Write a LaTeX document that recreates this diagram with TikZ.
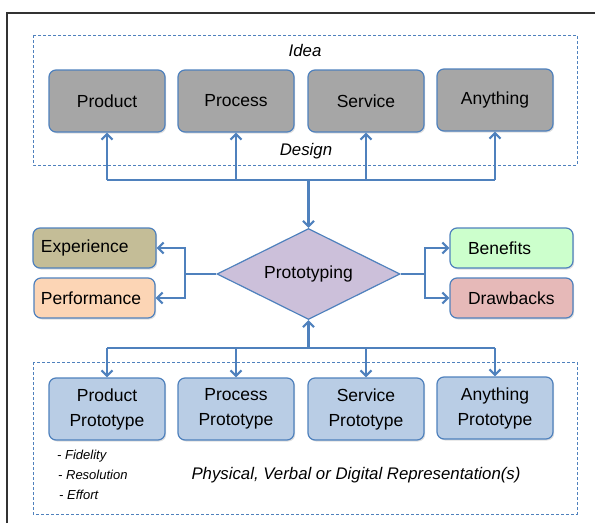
\documentclass[tikz,border=0pt]{standalone}
\usepackage{fontspec}
\setmainfont{Liberation Sans}
\usepackage{tikz}
\usetikzlibrary{arrows.meta}
\usetikzlibrary{shapes.geometric}
\usetikzlibrary{shadows}
\definecolor{lineblue}{HTML}{4F81BD}
\definecolor{ideagray}{HTML}{A6A6A6}
\definecolor{protoblue}{HTML}{B9CDE5}
\definecolor{diamondlilac}{HTML}{CCC0DA}
\definecolor{expkhaki}{HTML}{C4BD97}
\definecolor{perfpeach}{HTML}{FCD5B5}
\definecolor{benegreen}{HTML}{CCFFCC}
\definecolor{drawpink}{HTML}{E6B9B8}
\tikzstyle{card}=[draw=lineblue,line width=1.2pt,rounded corners=7pt,
  drop shadow={opacity=.25,shadow xshift=1.2pt,shadow yshift=-1.5pt},
  font=\fontsize{17.5}{25}\selectfont,align=center]
\tikzstyle{big}=[card,minimum width=116pt,minimum height=62pt,inner sep=0pt]
\tikzstyle{side}=[card,minimum height=40pt,align=left,inner ysep=0pt]
\tikzstyle{zone}=[draw=lineblue,line width=1pt,dash pattern=on 3pt off 2pt]
\tikzstyle{wire}=[draw=lineblue,line width=2.8pt]
\tikzstyle{link}=[wire,-{Straight Barb[length=5.5pt,width=11pt,line width=2.2pt]}]
\newcommand\note[1]{\fontsize{16.8}{20}\selectfont\itshape #1}

\begin{document}
\begin{tikzpicture}[x=1pt,y=-1pt]
	\useasboundingbox (0,0) rectangle (595,523);
	\draw[line width=1.4pt,black!80] (7,523) -- (7,13) -- (595,13);
	% idea / design zone
	\draw[zone] (33,35) rectangle (577,165);
	\node (idea)   at (305,50)  {\note{Idea}};
	\node (design) at (306,151) {\note{Design}};
	\node[big,fill=ideagray] (prod) at (107,101) {Product};
	\node[big,fill=ideagray] (proc) at (236,101) {Process};
	\node[big,fill=ideagray] (serv) at (366,101) {Service};
	\node[big,fill=ideagray] (any)  at (495,100) {Anything};
	% prototyping
	\node[draw=lineblue,line width=1.2pt,fill=diamondlilac,diamond,aspect=2,
	  minimum width=183pt,minimum height=91pt,inner sep=0pt,font=\fontsize{17.5}{20}\selectfont] (proto) at (308.5,274) {Prototyping};
	\node[side,fill=expkhaki,text width=107pt,inner xsep=8pt]  (exp)  at (94.5,248) {Experience};
	\node[side,fill=perfpeach,text width=107pt,inner xsep=7pt] (perf) at (94.5,298) {Performance};
	\node[side,fill=benegreen,text width=87pt,inner xsep=18pt] (bene) at (511.5,248) {Benefits};
	\node[side,fill=drawpink,text width=87pt,inner xsep=18pt]  (drw)  at (511.5,298) {Drawbacks};
	% representation zone
	\draw[zone] (33,362) rectangle (577,514);
	\node[big,fill=protoblue] (pprod) at (107,409) {Product\\Prototype};
	\node[big,fill=protoblue] (pproc) at (236,409) {Process\\Prototype};
	\node[big,fill=protoblue] (pserv) at (366,409) {Service\\Prototype};
	\node[big,fill=protoblue] (pany)  at (495,408) {Anything\\Prototype};
	\node[anchor=north west,align=left,inner sep=0pt,font=\fontsize{13}{20}\selectfont\itshape] (dims) at (57,450)
	  {- Fidelity\\\hspace{1pt}- Resolution\\\hspace{2pt}- Effort};
	\node (repr) at (356,475) {\note{Physical, Verbal or Digital Representation(s)}};
	% connectors
	\coordinate (t1) at (107,180);
	\coordinate (t2) at (236,180);
	\coordinate (t3) at (366,180);
	\coordinate (t4) at (495,180);
	\coordinate (tm) at (308.5,180);
	\draw[wire] (t1) -- (t4);
	\draw[link] (t1) -- (prod.south);
	\draw[link] (t2) -- (proc.south);
	\draw[link] (t3) -- (serv.south);
	\draw[link] (t4) -- (any.south);
	\draw[link] (tm) -- (proto.north);
	\coordinate (lj) at (185,274);
	\coordinate (rj) at (425,274);
	\draw[link] (proto.west) -- (lj) |- (exp.east);
	\draw[link] (lj) |- (perf.east);
	\draw[link] (proto.east) -- (rj) |- (bene.west);
	\draw[link] (rj) |- (drw.west);
	\coordinate (b1) at (107,348);
	\coordinate (b2) at (236,348);
	\coordinate (b3) at (366,348);
	\coordinate (b4) at (495,348);
	\coordinate (bm) at (308.5,348);
	\draw[wire] (b1) -- (b4);
	\draw[link] (bm) -- (proto.south);
	\draw[link] (b1) -- (pprod.north);
	\draw[link] (b2) -- (pproc.north);
	\draw[link] (b3) -- (pserv.north);
	\draw[link] (b4) -- (pany.north);
\end{tikzpicture}
\end{document}
